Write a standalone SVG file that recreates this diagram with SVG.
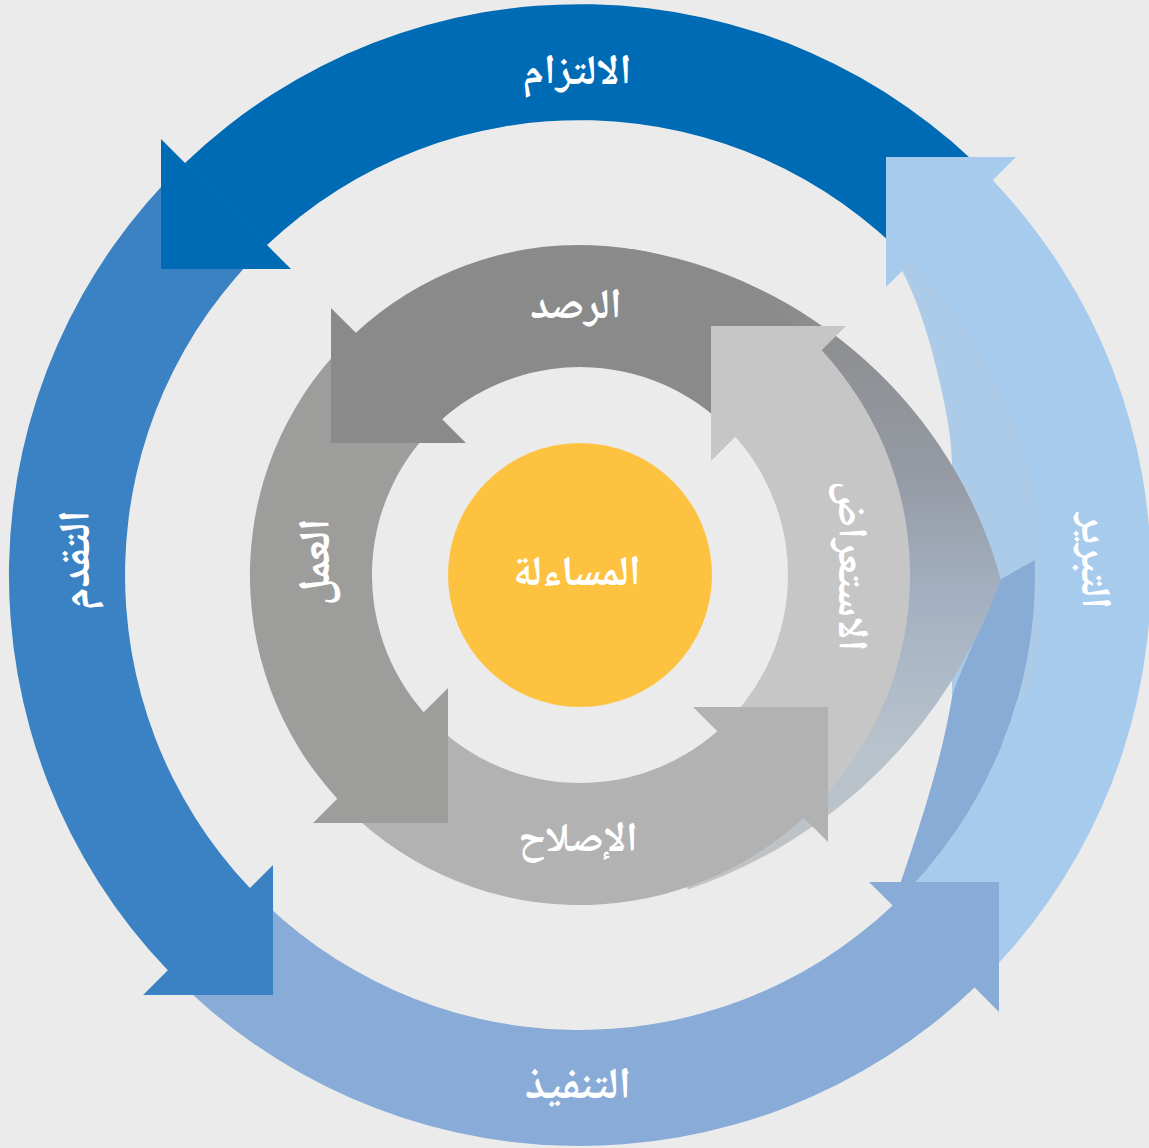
<svg xmlns="http://www.w3.org/2000/svg" width="1149" height="1148" viewBox="0 0 1149 1148">
<defs>
<style>
.lbl{font-family:"Noto Naskh Arabic","Noto Sans Arabic","DejaVu Sans",sans-serif;font-weight:bold;fill:#ffffff;text-anchor:middle}
</style>
<clipPath id="clipD"><path clip-rule="evenodd" d="M0 0H1149V1148H0Z M161,139 L161,269 L291,269 Z"/></clipPath>
<clipPath id="clipH"><path clip-rule="evenodd" d="M0 0H1149V1148H0Z M331,308 L331,443 L466,443 Z"/></clipPath>
<linearGradient id="lensG" gradientUnits="userSpaceOnUse" x1="0" y1="290" x2="0" y2="900">
<stop offset="0" stop-color="#8a8a8a"/>
<stop offset="0.3" stop-color="#959aa3"/>
<stop offset="0.5" stop-color="#a3b0c1"/>
<stop offset="0.75" stop-color="#b7c2cc"/>
<stop offset="1" stop-color="#c2c3c4"/>
</linearGradient>
</defs>
<rect x="0" y="0" width="1149" height="1148" fill="#ebebeb"/>

<g id="outer-commitment">
<path fill="#006bb5" d="M161,139 L161,269 L291,269 L267,245 A455,455 0 0,1 910.6,262.4 L992.7,180.3 A571,571 0 0,0 185,163 Z"/>
<text class="lbl" font-size="42" x="577" y="84">الالتزام</text>
</g>
<g id="outer-justification">
<path fill="#a6cbed" d="M1016,157 L886,157 L886,287 L910.6,262.4 A455,455 0 0,1 892.6,905.6 L974.6,987.6 A571,571 0 0,0 992.7,180.3 Z"/>
<text class="lbl" font-size="42" transform="translate(1082,561) rotate(90)" x="0" y="0">التبرير</text>
</g>
<g id="outer-overlays">
<path fill="#abcbe9" d="M901.7,270 C915,295 930,335 943,397 C950,430 952,450 952,470 L952,700 L1028,700 A455,455 0 0,0 910.6,262.4 Z"/>
<path fill="#89acd6" d="M1034.7,560 L1001,579 C985,620 960,670 952,697 C945,740 930,800 892.6,905.6 A455,455 0 0,0 1034.7,560 Z"/>
</g>
<g id="outer-implementation">
<path fill="#88acd7" d="M999,1012 L999,882 L869,882 L892.6,905.6 A455,455 0 0,1 249.9,888.1 L167.8,970.2 A571,571 0 0,0 974.6,987.6 Z"/>
<text class="lbl" font-size="44" x="578" y="1098">التنفيذ</text>
</g>
<g id="outer-progress">
<path fill="#3a82c4" clip-path="url(#clipD)" d="M143,995 L273,995 L273,865 L249.9,888.1 A455,455 0 0,1 266.9,244.9 L184.8,162.8 A571,571 0 0,0 167.8,970.2 Z"/>
<text class="lbl" font-size="44" transform="translate(89,560) rotate(-90)" x="0" y="0">التقدم</text>
</g>

<g id="inner-monitoring">
<path fill="url(#lensG)" d="M632,249 A457,457 0 0,1 1000.8,579.4 A505,505 0 0,1 687.9,889.6 L677.1,858.9 A300,300 0 0,0 627.4,278.9 Z"/>
<path fill="#8a8a8a" d="M331,308 L331,443 L466,443 L442.2,419.2 A208,208 0 0,1 735.3,436.7 L821.7,350.3 A330,330 0 0,0 355.8,332.8 Z"/>
<text class="lbl" font-size="42" x="576" y="318">الرصد</text>
</g>
<g id="inner-review">
<path fill="#c6c6c6" d="M846,326 L711,326 L711,461 L735.3,436.7 A208,208 0 0,1 717.3,731.3 L803.7,817.7 A330,330 0 0,0 821.7,350.3 Z"/>
<text class="lbl" font-size="41" transform="translate(839,566) rotate(90)" x="0" y="0">الاستعراض</text>
</g>
<g id="inner-remedy">
<path fill="#b2b2b2" d="M828,842 L828,707 L693,707 L717.3,731.3 A208,208 0 0,1 423.7,712.3 L337.3,798.7 A330,330 0 0,0 803.7,817.7 Z"/>
<text class="lbl" font-size="41" x="578" y="851">الإصلاح</text>
</g>
<g id="inner-action">
<path fill="#9d9d9c" clip-path="url(#clipH)" d="M313,823 L448,823 L448,688 L423.7,712.3 A208,208 0 0,1 442.2,419.2 L355.8,332.8 A330,330 0 0,0 337.3,798.7 Z"/>
<text class="lbl" font-size="44" transform="translate(329,562) rotate(-90)" x="0" y="0">العمل</text>
</g>

<g id="center-accountability">
<circle cx="580" cy="575" r="132" fill="#fdc340"/>
<text class="lbl" font-size="42" x="577" y="585">المساءلة</text>
</g>
<g id="connectors"/>
</svg>
